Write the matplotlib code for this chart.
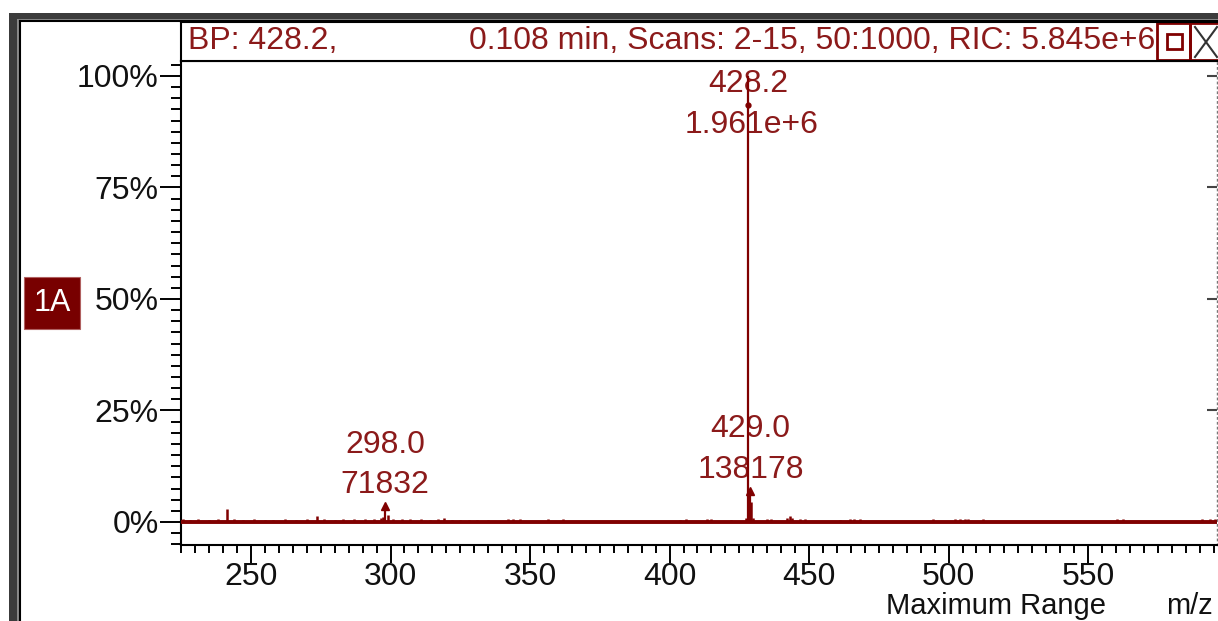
import matplotlib
matplotlib.use("Agg")
import matplotlib.pyplot as plt
from matplotlib.patches import Rectangle
from matplotlib.ticker import MultipleLocator, FixedLocator, FuncFormatter
from matplotlib.lines import Line2D

# ---------------- data ----------------
header_left = "BP: 428.2,"
header_right = "0.108 min, Scans: 2-15, 50:1000, RIC: 5.845e+6"
trace_label = "1A"

base_abundance = 1961000
label_mz = [428.2, 298.0, 429.0]
label_abund = [1961000, 71832, 138178]
label_texts_mz = ["428.2", "298.0", "429.0"]
label_texts_ab = ["1.961e+6", "71832", "138178"]

noise_mz = [225.5, 228, 231, 235, 238, 241.4, 244, 247, 251, 255, 258, 262, 266,
            270, 273.7, 276, 280, 283, 287, 291, 294, 296.5, 297.2, 299, 301, 304,
            307, 311, 314, 317, 319, 322, 325, 328, 331, 335, 342, 344, 346.4,
            356.5, 361.8, 403.8, 406, 413.5, 415, 422, 427.5, 429.2, 430, 435,
            436.5, 442, 443, 444, 446.8, 448.6, 461.1, 464.7, 466, 468.3, 494.4,
            502.3, 504, 505.9, 507, 512.4, 560.4, 562.5, 590.8, 593.7, 595.5]
noise_pct = [0.6, 0.5, 0.6, 0.5, 0.6, 2.8, 0.6, 0.5, 0.6, 0.5, 0.5, 0.6, 0.5,
             0.6, 1.4, 0.6, 0.5, 0.6, 0.6, 0.6, 0.6, 0.8, 1.2, 1.5, 0.6, 0.6,
             0.6, 0.6, 0.5, 0.6, 0.9, 0.5, 0.4, 0.5, 0.5, 0.4, 0.7, 0.7, 0.6,
             0.7, 0.6, 0.5, 0.6, 0.7, 0.7, 0.5, 0.8, 4.5, 1.0, 0.7,
             0.7, 0.8, 1.4, 0.9, 0.6, 0.6, 0.5, 0.7, 0.7, 0.6, 0.7,
             0.6, 0.7, 0.7, 0.6, 0.6, 0.6, 0.6, 0.7, 0.7, 0.7]

y_major = [0, 25, 50, 75, 100]
x_major = [250, 300, 350, 400, 450, 500, 550]

# ---------------- style ----------------
W, H = 1218, 621
RED = "#800000"
TXT_RED = "#8b1a1a"
FONT = ["Liberation Sans", "DejaVu Sans"]
FS = 23
plt.rcParams["font.family"] = FONT

def fx(x):
    return x / W

def fy(y):
    return 1 - y / H

fig = plt.figure(figsize=(W / 100, H / 100), dpi=100)
fig.patch.set_facecolor("white")

# outer window frame
fig.patches.append(Rectangle((fx(9), fy(21)), fx(W - 9), 8 / H, transform=fig.transFigure,
                             facecolor="#3c3c3c", edgecolor="none", zorder=0))
fig.patches.append(Rectangle((fx(9), 0), 10 / W, fy(13), transform=fig.transFigure,
                             facecolor="#3c3c3c", edgecolor="none", zorder=0))
fig.patches.append(Rectangle((fx(17), 0), 2 / W, fy(19), transform=fig.transFigure,
                             facecolor="#8a8a8a", edgecolor="none", zorder=1))
fig.patches.append(Rectangle((fx(17), fy(21)), fx(W - 17), 2 / H, transform=fig.transFigure,
                             facecolor="#8a8a8a", edgecolor="none", zorder=1))
fig.lines.append(Line2D([fx(20), fx(20)], [0, fy(21)], transform=fig.transFigure,
                        color="black", lw=1.5))
fig.lines.append(Line2D([fx(20), 1], [fy(21), fy(21)], transform=fig.transFigure,
                        color="black", lw=1.5))

# main axes
ax = fig.add_axes([fx(181), fy(545), (1217 - 181) / W, (545 - 61) / H])
ax.set_xlim(224.9, 596.2)
ax.set_ylim(-5.16, 103.36)

# baseline + peaks
ax.axhline(0, color=RED, lw=2.8, zorder=3)
ax.vlines(noise_mz, 0, noise_pct, color=RED, lw=1.8, zorder=3)
label_pct = [a / base_abundance * 100 for a in label_abund]
ax.vlines(label_mz, 0, label_pct, color=RED, lw=1.6, zorder=4)
ax.plot(label_mz[1:], label_pct[1:], linestyle="none", marker="^", ms=6, color=RED, zorder=5)
ax.plot([label_mz[0]], [93.5], linestyle="none", marker="o", ms=3.5, color=RED, zorder=5)

# peak labels
for i, (m, p, t1, t2) in enumerate(zip(label_mz, label_pct, label_texts_mz, label_texts_ab)):
    if i == 0:
        ax.text(m, 98.2, t1, ha="center", va="center", fontsize=FS, color=TXT_RED)
        ax.text(m + 1.2, 89.0, t2, ha="center", va="center", fontsize=FS, color=TXT_RED)
    else:
        ax.annotate(t1, (m, p), xytext=(0, 44), textcoords="offset points",
                    ha="center", va="center", fontsize=FS, color=TXT_RED)
        ax.annotate(t2, (m, p), xytext=(0, 15), textcoords="offset points",
                    ha="center", va="center", fontsize=FS, color=TXT_RED)

# spines
for s in ["left", "bottom", "top"]:
    ax.spines[s].set_color("black")
    ax.spines[s].set_linewidth(1.5)
ax.spines["right"].set_color("#777777")
ax.spines["right"].set_linewidth(1.0)
ax.spines["right"].set_linestyle((0, (1, 2.5)))

# ticks
ax.yaxis.set_major_locator(FixedLocator(y_major))
ax.yaxis.set_minor_locator(MultipleLocator(2.5))
ax.yaxis.set_major_formatter(FuncFormatter(lambda v, p: f"{v:g}%"))
ax.xaxis.set_major_locator(FixedLocator(x_major))
ax.xaxis.set_minor_locator(MultipleLocator(5))
ax.tick_params(axis="y", which="major", direction="out", length=15, width=1.4,
               labelsize=FS, pad=1, colors="black")
ax.tick_params(axis="y", which="minor", direction="out", length=7, width=1.4)
ax.tick_params(axis="x", which="major", direction="out", length=13, width=1.4,
               labelsize=FS, pad=-1)
ax.tick_params(axis="x", which="minor", direction="out", length=6, width=1.4)
for lab in ax.get_yticklabels() + ax.get_xticklabels():
    lab.set_color("#111111")

sec = ax.secondary_yaxis("right")
sec.yaxis.set_major_locator(FixedLocator(y_major[1:]))
sec.tick_params(axis="y", which="major", direction="in", length=7, width=1.5,
                labelright=False, colors="#444444")
sec.spines["right"].set_visible(False)

# header bar
hax = fig.add_axes([fx(181), fy(61), (W - 181) / W, (61 - 22) / H])
hax.set_xlim(181, W)
hax.set_ylim(61, 22)
hax.set_xticks([])
hax.set_yticks([])
for s in ["left", "top", "bottom"]:
    hax.spines[s].set_color("black")
    hax.spines[s].set_linewidth(1.5)
hax.spines["right"].set_visible(False)
hax.text(188, 41, header_left, ha="left", va="center", fontsize=FS, color=TXT_RED)
hax.text(1155, 41, header_right, ha="right", va="center", fontsize=FS, color=TXT_RED)
hax.add_patch(Rectangle((1157, 23), 33, 37, facecolor="none", edgecolor=RED, lw=2))
hax.add_patch(Rectangle((1167, 34), 15, 15, facecolor="none", edgecolor=RED, lw=2))
hax.add_patch(Rectangle((1190, 23), 40, 37, facecolor="none", edgecolor=RED, lw=2))
hax.plot([1195, 1217], [27, 57], color="#333333", lw=1.5)
hax.plot([1195, 1217], [57, 27], color="#333333", lw=1.5)

# trace tag
fig.patches.append(Rectangle((fx(24), fy(329)), 56 / W, 52 / H, transform=fig.transFigure,
                             facecolor="#780000", edgecolor="#b06060", lw=0.8, zorder=2))
fig.text(fx(52), fy(303), trace_label, ha="center", va="center", fontsize=FS - 1,
         color="white", zorder=3)

# axis footer text
fig.text(fx(996), fy(620.5), "Maximum Range", ha="center", va="bottom", fontsize=FS - 2,
         color="#111111")
fig.text(fx(1166), fy(620.5), "m/z", ha="left", va="bottom", fontsize=FS - 2, color="#111111")

fig.savefig("out.png", dpi=100)
